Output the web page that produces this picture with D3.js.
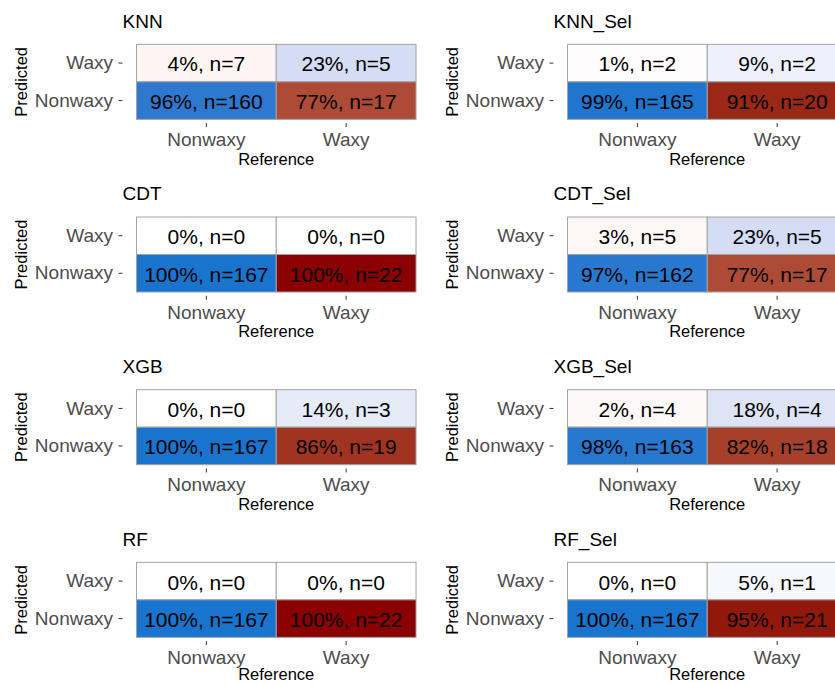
<!DOCTYPE html>
<html>
<head>
<meta charset="utf-8">
<script src="https://cdn.jsdelivr.net/npm/d3@7"></script>
<style>
  html, body { margin: 0; padding: 0; background: #fff; }
  svg { display: block; font-family: "Liberation Sans", Arial, Helvetica, sans-serif; }
</style>
</head>
<body>
<svg id="chart" width="835" height="684"></svg>
<script>
// ---- data ----
const models = ["KNN", "KNN_Sel", "CDT", "CDT_Sel", "XGB", "XGB_Sel", "RF", "RF_Sel"];
const referenceLevels = ["Nonwaxy", "Waxy"];
const predictedLevels = ["Waxy", "Nonwaxy"]; // top to bottom
const refNonwaxyPredNonwaxy = [160, 165, 167, 162, 167, 163, 167, 167];
const refNonwaxyPredWaxy    = [7, 2, 0, 5, 0, 4, 0, 0];
const refWaxyPredWaxy       = [5, 2, 0, 5, 3, 4, 0, 1];
const refWaxyPredNonwaxy    = [17, 20, 22, 17, 19, 18, 22, 21];

// ---- layout ----
const svg = d3.select("#chart");
const panelW = 307.5, panelH = 82.5;
const colLeft = [122.5, 553.5];
const rowTop0 = 40.6, rowPitch = 172.67;
const nRows = Math.ceil(models.length / 2);

const goodColor = "#1874CD";
const badColor = "#8B0000";
const goodScale = d3.scaleLinear().domain([0, 1]).range(["#ffffff", goodColor]).interpolate(d3.interpolateLab);
const badScale = d3.scaleLinear().domain([0, 1]).range(["#ffffff", badColor]).interpolate(d3.interpolateLab);

const x = d3.scaleBand().domain(referenceLevels).range([0, panelW]).paddingInner(0).paddingOuter(0.1);
const y = d3.scaleBand().domain(predictedLevels).range([0, panelH]).paddingInner(0).paddingOuter(0.1);

models.forEach((m, i) => {
  const col = i % 2, row = Math.floor(i / 2);
  const left = colLeft[col], top = rowTop0 + row * rowPitch;
  const totNW = refNonwaxyPredNonwaxy[i] + refNonwaxyPredWaxy[i];
  const totW = refWaxyPredWaxy[i] + refWaxyPredNonwaxy[i];
  const cells = [
    { ref: "Nonwaxy", pred: "Waxy", n: refNonwaxyPredWaxy[i], tot: totNW },
    { ref: "Waxy", pred: "Waxy", n: refWaxyPredWaxy[i], tot: totW },
    { ref: "Nonwaxy", pred: "Nonwaxy", n: refNonwaxyPredNonwaxy[i], tot: totNW },
    { ref: "Waxy", pred: "Nonwaxy", n: refWaxyPredNonwaxy[i], tot: totW }
  ];
  cells.forEach(c => { c.p = c.tot ? c.n / c.tot : 0; c.correct = c.ref === c.pred; });

  const g = svg.append("g").attr("transform", `translate(${left},${top})`);

  // title
  g.append("text").attr("x", 0).attr("y", 27.6 - rowTop0)
    .attr("font-size", 19).attr("fill", "#000").text(m);

  // tiles
  g.selectAll("rect.tile").data(cells).enter().append("rect")
    .attr("class", "tile")
    .attr("x", d => x(d.ref)).attr("y", d => y(d.pred))
    .attr("width", x.bandwidth()).attr("height", y.bandwidth())
    .attr("fill", d => d.correct ? goodScale(d.p) : badScale(d.p))
    .attr("stroke", "#A3A3A3").attr("stroke-width", 1);

  g.selectAll("text.cell").data(cells).enter().append("text")
    .attr("class", "cell")
    .attr("x", d => x(d.ref) + x.bandwidth() / 2)
    .attr("y", d => y(d.pred) + y.bandwidth() / 2)
    .attr("dy", "0.4em")
    .attr("text-anchor", "middle")
    .attr("font-size", 21).attr("fill", "#000")
    .text(d => `${Math.round(d.p * 100)}%, n=${d.n}`);

  // axes
  const xa = g.append("g").attr("transform", `translate(0,${panelH})`)
    .call(d3.axisBottom(x).tickSize(4).tickPadding(5.5));
  const ya = g.append("g")
    .call(d3.axisLeft(y).tickSize(4).tickPadding(5.5));
  [xa, ya].forEach(a => {
    a.select(".domain").remove();
    a.selectAll(".tick line").attr("stroke", "#333").attr("stroke-width", 1);
    a.selectAll(".tick text").attr("font-size", 19).attr("fill", "#4D4D4D")
      .attr("font-family", "Liberation Sans, Arial, sans-serif");
  });

  // axis titles (bottom row nudged up slightly so it stays inside the picture)
  const refY = row === nRows - 1 ? 121.2 : 124.2;
  g.append("text").attr("x", panelW / 2).attr("y", refY)
    .attr("text-anchor", "middle").attr("font-size", 16.5).attr("fill", "#000")
    .text("Reference");
  g.append("text")
    .attr("transform", `translate(${26.5 - 122.5},${panelH / 2}) rotate(-90)`)
    .attr("text-anchor", "middle").attr("font-size", 16.5).attr("fill", "#000")
    .text("Predicted");
});
</script>
</body>
</html>
